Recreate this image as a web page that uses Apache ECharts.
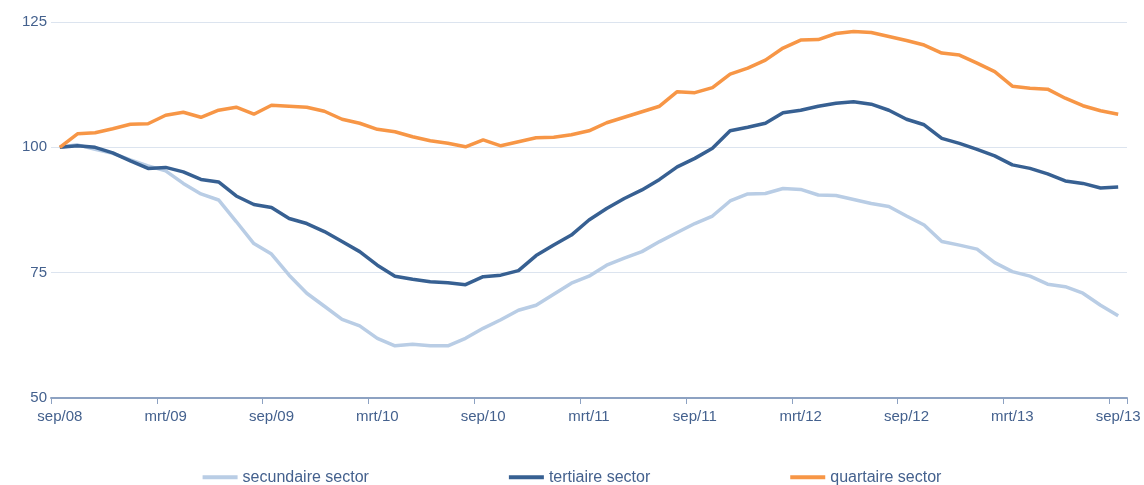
<!DOCTYPE html>
<html>
<head>
    <title>Sectoren index</title>
    <style>
        body {
            margin: 0;
            background: #ffffff;
        }

        #chart {
            width: 1144px;
            height: 485px;
        }
    </style>
    <script src="https://cdn.jsdelivr.net/npm/echarts@6/dist/echarts.min.js"></script>
</head>
<body>
    <div id="chart"></div>

    <script>
        var monthNames = ['sep', 'okt', 'nov', 'dec', 'jan', 'feb', 'mrt', 'apr', 'mei', 'jun', 'jul', 'aug'];
        var startYear = 8;

        var secundaire = [
            100, 100.5, 99.6, 98.8, 97.5, 96.3, 95.3, 92.8, 90.7, 89.5,
            85.2, 80.8, 78.7, 74.5, 70.9, 68.3, 65.7, 64.4, 61.9, 60.4,
            60.7, 60.4, 60.4, 61.9, 63.9, 65.6, 67.5, 68.5, 70.7, 72.9,
            74.3, 76.5, 77.9, 79.2, 81.2, 83.0, 84.8, 86.3, 89.3, 90.7,
            90.8, 91.8, 91.6, 90.5, 90.4, 89.6, 88.8, 88.2, 86.3, 84.5,
            81.2, 80.5, 79.7, 77.0, 75.2, 74.3, 72.7, 72.2, 70.9, 68.5,
            66.4
        ];

        var tertiaire = [
            100, 100.3, 100.0, 98.9, 97.3, 95.8, 96.0, 95.1, 93.6, 93.1,
            90.3, 88.6, 88.0, 85.8, 84.8, 83.2, 81.2, 79.2, 76.5, 74.3,
            73.7, 73.2, 73.0, 72.6, 74.2, 74.5, 75.4, 78.4, 80.5, 82.5,
            85.5, 87.8, 89.8, 91.5, 93.6, 96.1, 97.8, 99.8, 103.3, 104.0,
            104.8, 106.9, 107.4, 108.2, 108.8, 109.1, 108.6, 107.4, 105.6, 104.5,
            101.8, 100.8, 99.6, 98.3, 96.5, 95.8, 94.7, 93.3, 92.8, 91.9,
            92.1
        ];

        var quartaire = [
            100, 102.7, 102.9, 103.7, 104.6, 104.7, 106.4, 107.0, 106.0, 107.4,
            108.0, 106.6, 108.4, 108.2, 108.0, 107.2, 105.6, 104.8, 103.6, 103.1,
            102.1, 101.3, 100.8, 100.1, 101.5, 100.3, 101.1, 101.9, 102.0, 102.5,
            103.3, 104.9, 106.0, 107.1, 108.2, 111.1, 110.9, 111.9, 114.6, 115.8,
            117.4, 119.8, 121.4, 121.5, 122.7, 123.1, 122.9, 122.1, 121.3, 120.4,
            118.8, 118.4, 116.8, 115.1, 112.2, 111.8, 111.6, 109.8, 108.3, 107.3,
            106.6
        ];

        // month labels sep/08 .. sep/13
        var categories = [];
        for (var i = 0; i < secundaire.length; i++) {
            var yr = startYear + Math.floor((i + 8) / 12);
            categories.push(monthNames[i % 12] + '/' + (yr < 10 ? '0' + yr : yr));
        }

        var textColor = '#44618E';
        var fontFamily = '"Liberation Sans Narrow", "Liberation Sans", sans-serif';

        var chart = echarts.init(document.getElementById('chart'));

        var option = {
            animation: false,
            textStyle: {
                fontFamily: fontFamily
            },
            grid: {
                left: 51,
                right: 17,
                top: 22,
                bottom: 87
            },
            legend: {
                bottom: -11,
                left: 'center',
                icon: 'rect',
                itemWidth: 35,
                itemHeight: 4,
                itemGap: 140,
                textStyle: {
                    color: textColor,
                    fontSize: 16,
                    fontFamily: fontFamily
                },
                data: ['secundaire sector', 'tertiaire sector', 'quartaire sector']
            },
            xAxis: {
                type: 'category',
                data: categories,
                boundaryGap: true,
                axisLine: {
                    lineStyle: {
                        color: '#8DA2C2',
                        width: 2
                    }
                },
                axisTick: {
                    show: true,
                    interval: 5,
                    length: 6,
                    lineStyle: {
                        color: '#8DA2C2'
                    }
                },
                axisLabel: {
                    interval: 5,
                    color: textColor,
                    fontSize: 15,
                    margin: 6
                }
            },
            yAxis: {
                type: 'value',
                min: 50,
                max: 125,
                interval: 25,
                axisLine: {
                    show: false
                },
                axisTick: {
                    show: false
                },
                axisLabel: {
                    color: textColor,
                    fontSize: 15,
                    margin: 4
                },
                splitLine: {
                    lineStyle: {
                        color: '#DCE4EF',
                        width: 1
                    }
                }
            },
            series: [
                {
                    name: 'secundaire sector',
                    type: 'line',
                    data: secundaire,
                    showSymbol: false,
                    itemStyle: { color: '#B9CDE5' },
                    lineStyle: { color: '#B9CDE5', width: 3.5 }
                },
                {
                    name: 'tertiaire sector',
                    type: 'line',
                    data: tertiaire,
                    showSymbol: false,
                    itemStyle: { color: '#376092' },
                    lineStyle: { color: '#376092', width: 3.5 }
                },
                {
                    name: 'quartaire sector',
                    type: 'line',
                    data: quartaire,
                    showSymbol: false,
                    itemStyle: { color: '#F79646' },
                    lineStyle: { color: '#F79646', width: 3.5 }
                }
            ]
        };

        chart.setOption(option);
    </script>
</body>
</html>
